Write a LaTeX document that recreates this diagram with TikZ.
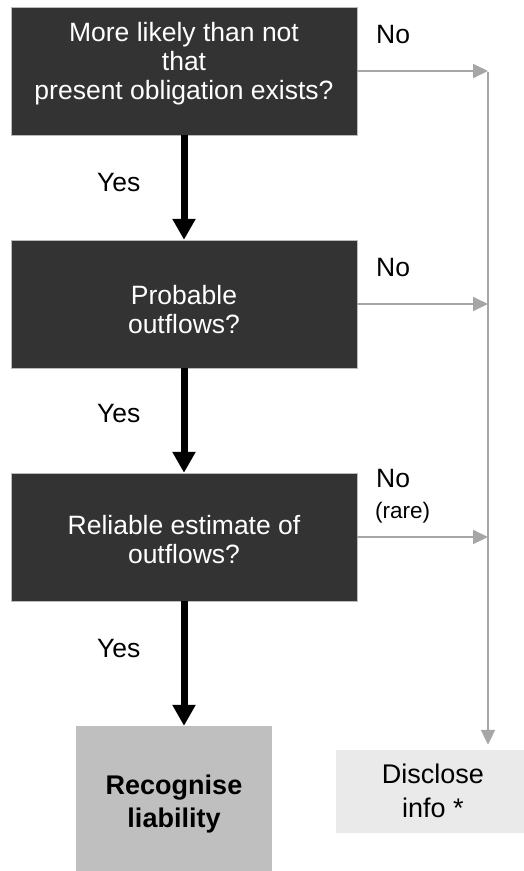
\documentclass[tikz,border=0pt]{standalone}
\usepackage{fontspec}
\setmainfont{Liberation Sans}
\usetikzlibrary{arrows.meta,positioning}
\definecolor{qdark}{HTML}{333333}
\definecolor{qedge}{HTML}{BBBBBB}
\definecolor{recfill}{HTML}{BFBFBF}
\definecolor{discfill}{HTML}{EAEAEA}
\definecolor{nogray}{HTML}{A6A6A6}
\tikzset{
  qbox/.style={rectangle,fill=qdark,draw=qedge,thin,text=white,align=center,
    minimum width=346pt,minimum height=128pt,inner sep=0pt,text depth=6pt,
    font=\fontsize{26.5}{29}\selectfont},                  % question box
  rbox/.style={rectangle,fill=recfill,align=center,inner sep=0pt,text depth=6pt,
    minimum width=196pt,minimum height=160pt,font=\fontsize{27}{33}\selectfont\bfseries},
  dbox/.style={rectangle,fill=discfill,align=center,inner sep=0pt,text depth=6pt,
    minimum width=194pt,minimum height=83pt,font=\fontsize{27}{34}\selectfont},
  yesarr/.style={-{Triangle[length=21pt,width=22pt]},line width=7pt,black},
  noarr/.style={-{Triangle[length=15pt,width=14pt]},nogray,line width=2pt},
  rail/.style={nogray,line width=2pt},
  lbl/.style={anchor=base west,inner sep=0pt,font=\fontsize{26.5}{29}\selectfont},
  small/.style={anchor=base west,inner sep=0pt,font=\fontsize{22.5}{26}\selectfont},
}

\begin{document}
\begin{tikzpicture}[x=1pt,y=-1pt]
  \useasboundingbox (0,0) rectangle (523,871);
  % questions
  \node[qbox,text height=62pt] (q1) at (184,71) {More likely than not\\that\\present obligation exists?};
  \node[qbox,text height=64pt] (q2) at (184,304) {Probable\\outflows?};
  \node[qbox,text height=58pt] (q3) at (184,537) {Reliable estimate of\\outflows?};
  % outcomes
  \node[rbox,text height=48pt] (rec) at (174,806) {Recognise\\liability};
  \node[dbox,text height=57pt] (disc) at (433,791.5) {Disclose\\info *};
  \coordinate (railtop) at (488,72);
  % yes path
  \draw[yesarr] (q1) -- (q2);
  \draw[yesarr] (q2) -- (q3);
  \draw[yesarr] (q3.south) -- (q3.south |- rec.north);
  \node[lbl] (y1) at (97,191) {Yes};
  \node[lbl] (y2) at (97,422) {Yes};
  \node[lbl] (y3) at (97,657) {Yes};
  % no path
  \foreach \q in {q1,q2,q3}
    \draw[noarr] (\q.east) -- (\q.east -| railtop);
  \draw[rail,-{Triangle[length=15pt,width=14pt]}] (railtop) -- ([yshift=5pt]railtop |- disc.north);
  \node[lbl] (n1) at (376,43) {No};
  \node[lbl] (n2) at (376,276) {No};
  \node[lbl] (n3) at (376,487) {No};
  \node[small] (rare) at (375,518) {(rare)};
\end{tikzpicture}
\end{document}
